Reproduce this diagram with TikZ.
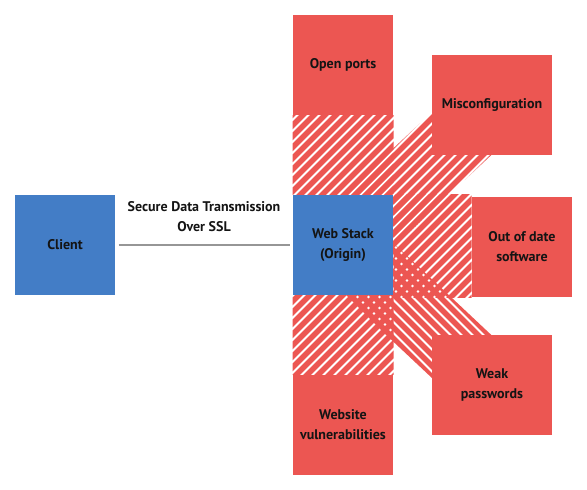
\documentclass[tikz,border=0pt]{standalone}
\usepackage{fontspec}
\setmainfont{PT Sans}
\usetikzlibrary{calc,backgrounds}
\definecolor{threatred}{RGB}{236,86,82}
\definecolor{stackblue}{RGB}{67,125,198}
\definecolor{wiregray}{RGB}{150,150,150}
\tikzset{every picture/.style={line width=0.75pt}}
\tikzset{
  box/.style={minimum width=75pt, minimum height=75pt, inner sep=0pt, align=center,
    font=\bfseries\fontsize{10.5}{15}\selectfont, text={rgb,255:red,20;green,20;blue,20}},
  bluebox/.style={box, fill=stackblue},
  redbox/.style={box, fill=threatred},
  widebox/.style={minimum width=90pt},
  stripe/.style={threatred, line width=4pt},
}
% band between two box centres, 72px wide
\newcommand\clipband[2]{\clip ($(#1)!27pt!90:(#2)$) -- ($(#2)!27pt!-90:(#1)$) -- ($(#2)!27pt!90:(#1)$) -- ($(#1)!27pt!-90:(#2)$) -- cycle;}
\newcommand\slashlines{\foreach \k in {0,...,100} \draw[stripe] (11*\k,0) -- ++(-490,490);}
\newcommand\backslashlines{\foreach \k in {-46,...,54} \draw[stripe] (11*\k,0) -- ++(490,490);}
\begin{document}
\begin{tikzpicture}[x=0.75pt,y=0.75pt,yscale=-1,xscale=1]
\useasboundingbox (0,0) rectangle (587,490);
%Shape: Rectangle [client]
\node[bluebox] (client) at (65,245) {Client};
%Shape: Rectangle [origin]
\node[bluebox] (web) at (343,245) {Web Stack\\(Origin)};
%Shape: Rectangle [threats]
\node[redbox] (ports) at (343,65) {Open ports};
\node[redbox, widebox] (misconf) at (492,105) {Misconfiguration};
\node[redbox] (outdated) at (522,247) {Out of date\\software};
\node[redbox, widebox] (weak) at (492,385) {Weak\\passwords};
\node[redbox] (vuln) at (343,425) {Website\\vulnerabilities};

%Hatched bands
\begin{scope}[on background layer]
  \begin{scope}
    \clip (web.north west) rectangle (ports.south east);
    \slashlines
  \end{scope}
  \begin{scope}
    \clip (web.south west) rectangle (vuln.north east);
    \slashlines
  \end{scope}
  \begin{scope}
    \clip (web.north east) rectangle (outdated.south west);
    \slashlines
  \end{scope}
  \begin{scope}
    \clipband{web.center}{misconf.center}
    \slashlines
  \end{scope}
  \begin{scope}
    \clipband{web.center}{weak.center}
    \backslashlines
  \end{scope}
\end{scope}

%Straight Lines [ssl]
\draw[wiregray, line width=1.5pt, shorten <=2.25pt, shorten >=2.25pt] (client) -- (web);
% Text Node
\node[align=center, font=\bfseries\fontsize{10.5}{15}\selectfont, text={rgb,255:red,20;green,20;blue,20}] (ssl) at (204,217) {Secure Data Transmission\\Over SSL};
\end{tikzpicture}
\end{document}
